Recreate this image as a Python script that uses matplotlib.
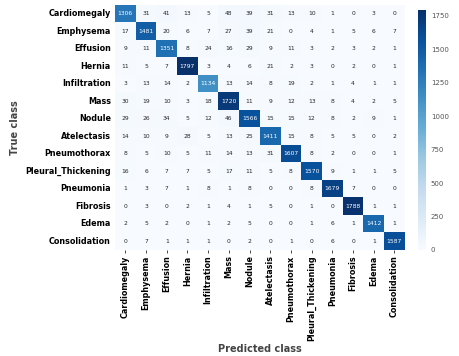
import numpy as np
import matplotlib.pyplot as plt
import seaborn as sns

classes = ["Cardiomegaly", "Emphysema", "Effusion", "Hernia", "Infiltration",
           "Mass", "Nodule", "Atelectasis", "Pneumothorax", "Pleural_Thickening",
           "Pneumonia", "Fibrosis", "Edema", "Consolidation"]

cardiomegaly = [1306, 31, 41, 13, 5, 48, 39, 31, 13, 10, 1, 0, 3, 0]
emphysema = [17, 1481, 20, 6, 7, 27, 39, 21, 0, 4, 1, 5, 6, 7]
effusion = [9, 11, 1351, 8, 24, 16, 29, 9, 11, 3, 2, 3, 2, 1]
hernia = [11, 5, 7, 1797, 3, 4, 6, 21, 2, 3, 0, 2, 0, 1]
infiltration = [3, 13, 14, 2, 1134, 13, 14, 8, 19, 2, 1, 4, 1, 1]
mass = [30, 19, 10, 3, 18, 1720, 11, 9, 12, 13, 8, 4, 2, 5]
nodule = [29, 26, 34, 5, 12, 46, 1566, 15, 15, 12, 8, 2, 9, 1]
atelectasis = [14, 10, 9, 28, 5, 13, 25, 1411, 15, 8, 5, 5, 0, 2]
pneumothorax = [8, 5, 10, 5, 11, 14, 13, 31, 1607, 8, 2, 0, 0, 1]
pleural = [16, 6, 7, 7, 5, 17, 11, 5, 8, 1570, 9, 1, 1, 5]
pneumonia = [1, 3, 7, 1, 8, 1, 8, 0, 0, 8, 1679, 7, 0, 0]
fibrosis = [0, 3, 0, 2, 1, 4, 1, 5, 0, 1, 0, 1788, 1, 1]
edema = [2, 5, 2, 0, 1, 2, 5, 0, 0, 1, 6, 1, 1412, 1]
consolidation = [0, 7, 1, 1, 1, 0, 2, 0, 1, 0, 6, 0, 1, 1587]

cm = np.array([cardiomegaly, emphysema, effusion, hernia, infiltration, mass,
               nodule, atelectasis, pneumothorax, pleural, pneumonia, fibrosis,
               edema, consolidation])

fig = plt.figure(figsize=(4.6, 3.56), dpi=100)
ax = fig.add_axes([0.25, 0.298, 0.63, 0.688])
cax = fig.add_axes([0.908, 0.298, 0.018, 0.675])

sns.heatmap(cm, annot=True, fmt="d", cmap="Blues", ax=ax, cbar_ax=cax,
            xticklabels=classes, yticklabels=classes,
            annot_kws={"fontsize": 4.3})

ax.set_xticklabels(classes, rotation=90, fontsize=5.8, fontweight="bold")
ax.set_yticklabels(classes, rotation=0, fontsize=5.8, fontweight="bold")
ax.tick_params(axis="x", length=2, width=0.5, pad=2)
ax.tick_params(axis="y", length=0, pad=3)
ax.set_xlabel("Predicted class", fontsize=7, fontweight="bold", color="#444444",
              labelpad=2)
ax.set_ylabel("True class", fontsize=7, fontweight="bold", color="#444444")

cax.set_yticks(np.arange(0, 1751, 250))
cax.tick_params(labelsize=5, length=0, colors="#555555")
for s in cax.spines.values():
    s.set_visible(False)

fig.savefig("out.png", dpi=100)
